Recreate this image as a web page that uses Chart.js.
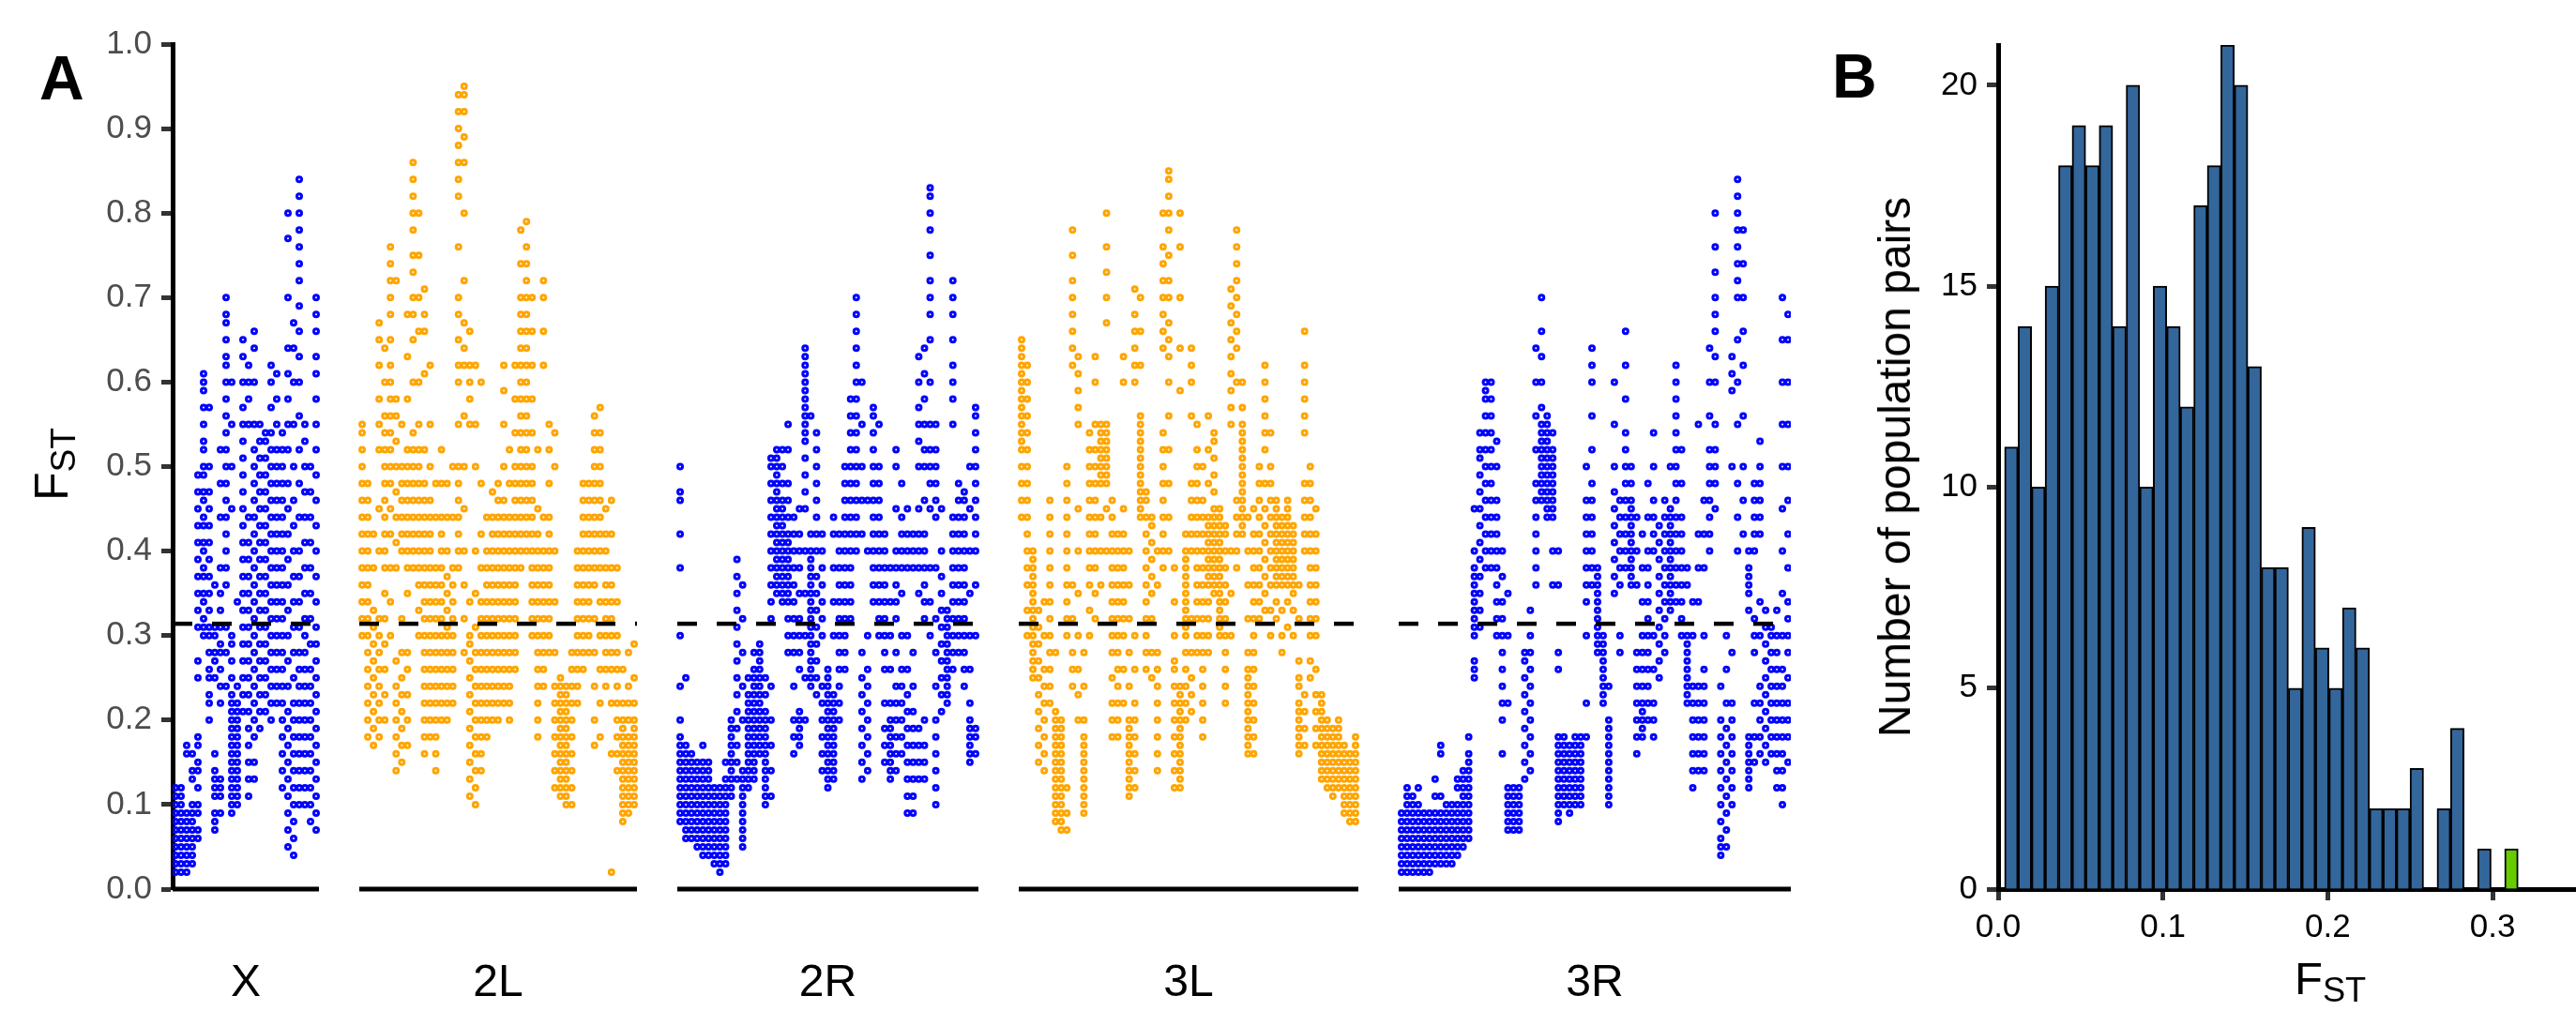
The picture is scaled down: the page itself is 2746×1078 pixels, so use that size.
<!DOCTYPE html>
<html>
<head>
<meta charset="utf-8">
<script src="https://cdn.jsdelivr.net/npm/chart.js@4.4.1/dist/chart.umd.min.js"></script>
<style>
  body { margin: 0; background: #fff; font-family: 'Liberation Sans', Arial, Helvetica, sans-serif; }
  #wrap { position: relative; width: 2746px; height: 1078px; overflow: hidden; }
  canvas { position: absolute; top: 0; }
  #chartA { left: 0; }
  #chartB { left: 1940px; }
  .lbl { position: absolute; line-height: 1; white-space: nowrap; color: #000; }
  .panel { font-weight: bold; font-size: 66px; }
  .sub { font-size: 0.74em; position: relative; top: 0.22em; }
  .rot { transform: translate(-50%, -50%) rotate(-90deg); }
</style>
</head>
<body>
<div id="wrap">
  <canvas id="chartA" width="1930" height="1078"></canvas>
  <canvas id="chartB" width="806" height="1078"></canvas>
  <div class="lbl panel" style="left:42px;top:50px;">A</div>
  <div class="lbl panel" style="left:1953px;top:48px;">B</div>
  <div class="lbl rot" style="left:55px;top:495px;font-size:50px;">F<span class="sub">ST</span></div>
  <div class="lbl rot" style="left:2020px;top:498px;font-size:48px;">Number of population pairs</div>
  <div class="lbl" style="left:2446px;top:1019px;font-size:49px;">F<span class="sub">ST</span></div>
</div>
<script>
// ---- panel A: FST along the chromosome arms ----
const armNames = ['X', '2L', '2R', '3L', '3R'];
const armLengths = [156, 296, 321, 362, 418]; // relative arm widths on the axis
const fstThreshold = 0.314;
const fstTicks = [0, 0.1, 0.2, 0.3, 0.4, 0.5, 0.6, 0.7, 0.8, 0.9, 1.0];

// FST x100, one inner list per window along the arm
const fstX = [
  [2,3,4,5,6,7,8,9,10,11,12],[2,3,4,5,6,7,8,9,10,11,12],[2,3,4,5,6,7,8,9,16,17],[3,4,5,6,7,8,9,10,13,14,16],
  [6,7,9,10,12,14,15,17,18,25,27,31,33,35,37,39,41,43,45,47,49],
  [30,31,32,34,35,37,38,40,41,43,44,46,47,49,50,52,53,55,57,59,60,61],
  [20,22,23,25,26,28,30,31,33,35,37,39,41,43,45,47,50,57],[7,8,9,11,12,13,14,16,25,27,28,30,31,36],
  [9,11,12,13,22,24,26,28,29,31,33,35,38,44,48,52],
  [24,28,31,36,38,40,42,44,46,48,50,52,54,56,58,60,62,63,65,67,68,70],
  [9,10,11,12,13,14,15,16,17,18,19,20,21,22,23,25,27,29,30,45,50,55,60],
  [10,11,12,13,14,15,16,17,18,19,20,21,22,24,34],
  [21,23,25,27,29,31,33,35,37,39,41,43,45,47,49,51,53,55,57,60,63,65],
  [11,13,15,17,19,21,23,25,27,29,31,33,35,37,39,41,44,55,58,60,62],
  [13,15,18,20,22,24,26,28,30,32,34,36,38,40,42,44,46,48,50,52,55,60,64,66],
  [19,21,23,25,27,29,31,33,35,37,39,41,43,45,47,49,51,53,55],
  [21,23,25,27,29,31,33,35,37,39,41,43,45,47,49,51,53,54],
  [20,22,24,26,28,30,32,34,36,38,40,42,44,46,48,50,52,54,57,60,62],
  [22,24,26,28,30,32,34,36,38,40,42,44,46,48,50,52,55,58,61],
  [12,14,16,18,20,22,24,26,28,30,32,34,36,38,40,42,44,46,48,50,52,54],
  [5,7,9,11,13,15,17,19,21,24,27,30,33,36,39,42,45,48,52,55,58,61,64,70,77,80],
  [4,6,8,10,12,14,16,18,20,22,25,28,31,34,37,40,43,46,50,55,60,64,67],
  [10,12,14,16,18,20,22,24,26,28,31,34,37,40,44,48,52,56,60,63,66,69,72,74,76,78,80,82,84],
  [10,12,14,16,18,20,22,24,26,28,30,32,35,38,41,44,47,50,53,55],
  [8,10,12,14,16,18,20,22,24,26,29,32,35,38,41,44,47,50],
  [7,9,11,13,15,17,19,21,23,25,27,29,31,34,37,40,43,46,49,52,55,58,61,63,66,68,70]
];
const fst2L = [
  [30,32,34,36,38,40,42,44,46,48,50,52,54,55],[18,20,22,24,26,28,30,32,34,36,38,40,42,44,46,48],
  [17,19,21,23,25,27,29,31,33,38,42],[18,20,22,24,26,28,30,32,40,45,52,55,58,62,65,67],
  [20,23,26,29,32,35,38,40,42,44,46,48,50,52,54,56,60,64],[30,34,38,42,45,48,50,52,54,56,58,60,62,65,68,70,72,74,76],
  [14,16,18,20,22,24,27,38,41,44,47,50,53,56,58,72],[15,17,19,21,23,25,28,32,40,42,44,46,48,50,55],
  [17,20,23,26,28,35,38,40,42,44,46,48,50,52,58,63,68],[38,40,42,44,46,48,50,52,54,60,65,68,70,73,75,78,80,82,84,86],
  [30,33,36,38,40,42,44,46,48,50,52,55,60,66,70,75,80],
  [16,18,20,22,24,26,28,30,32,34,36,38,40,42,44,46,48,52,61,66,68,71],
  [18,20,22,24,26,28,30,32,34,36,38,40,42,44,46,50,55,62],[14,16,18,20,22,24,26,28,30,32,34,36,38,44,48],
  [20,22,24,26,28,30,32,34,36,38,40,42,44,48,52],[20,22,24,26,28,30,31,33,35,37,40,44,48],
  [22,24,26,28,30,32,34,36,38,44,50],[38,40,42,44,46,48,50,55,60,62,65,68,70,76,82,84,86,88,90,92,94],
  [28,32,36,40,45,50,56,62,64,67,72,80,86,89,92,94,95],[11,13,15,17,19,21,23,25,27,29,30,34,55,58,60,62,66],
  [10,12,14,16,18,20,22,24,26,28,31,35,40,50,55,62],[14,16,18,20,22,24,26,28,30,32,34,38,42,48,60],
  [18,20,22,24,26,28,30,32,34,36,38,40,44],[20,22,24,26,28,30,32,34,36,38,40,42,44,47],
  [20,22,24,26,28,30,32,34,36,38,40,42,44,46,48],[22,24,26,28,30,32,34,36,38,40,42,44,46,50,55,59,62],
  [20,22,24,26,28,30,32,34,36,38,40,42,44,48,52],[26,28,30,32,34,36,38,40,42,44,46,48,50,54,58,62],
  [38,40,42,44,46,48,50,52,54,56,58,60,62,64,66,68,70,74,78],
  [40,42,44,46,48,50,52,54,56,58,60,62,64,66,68,70,72,74,76,79],
  [30,32,34,36,38,40,42,44,46,48,50,54,58,62,66,70],[18,20,22,24,26,28,30,32,34,36,38,40,42,45,52],
  [24,26,28,30,32,34,36,38,40,44,62,66,70,72],[28,30,32,34,36,38,40,42,44,48,52,55],
  [12,14,16,18,20,22,24,28,34,40,50,54],[11,12,13,14,15,16,17,18,19,20,21,22,23,24,25],
  [10,11,12,13,14,15,16,17,18,19,20,21,22,23,24],[10,12,14,16,18,20,22,24,26,28],
  [22,24,26,28,30,32,34,36,38,40],[26,28,30,32,34,36,38,40,42,44,46,48],[28,30,32,34,36,38,40,42,44,46,48],
  [17,20,24,28,32,36,38,40,42,44,46,48,50,52,54,56],[18,22,26,30,34,38,40,42,44,46,48,50,52,54,57],
  [24,26,28,30,32,34,36,38,40,42,45],[2,16,22,26,28,30,32,34,36,38,42,46],[14,16,18,20,22,24,26,28,30,34,38],
  [8,9,10,11,12,13,14,15,16,17,18,19,20,22,26],[9,10,11,12,13,14,15,16,17,18,20,22,24,28],
  [10,11,12,13,14,15,16,17,18,19,20,22,25,29]
];
const fst2R = [
  [8,9,10,11,12,13,14,15,16,17,18,20,24,30,38,42,46,47,50],[6,7,8,9,10,11,12,13,14,15,16,17,25],
  [6,7,8,9,10,11,12,13,14,15,16],[5,6,7,8,9,10,11,12,13,14,15],[4,5,6,7,8,9,10,11,12,13,14,15,17],
  [4,5,6,7,8,9,10,11,12,13,14,15],[3,4,5,6,7,8,9,10,11,12],[2,3,4,5,6,7,8,9,10,11,12],
  [3,4,5,6,7,8,9,10,11,12,13,15],[11,12,13,14,15,16,17,18,19,20],[13,15,17,19,21,23,25,27,29,31,33,35,37,39],
  [5,6,7,8,9,10,11,12,13,14,20,24,28,32,36],[12,13,14,15,16,17,18,19,20,21,22,23,25],
  [13,14,15,16,17,18,19,20,21,22,23,24,25,26,28],[16,17,18,19,20,21,22,23,24,25,26,27,28,29],
  [10,11,12,13,14,15,16,17,18,19,20,21,23,25],[11,14,17,20,24,32,34,36,38,40,42,44,46,48,50,51],
  [35,36,37,38,39,40,41,42,43,44,45,46,47,48,49,50,51,52],[34,35,36,37,38,39,40,41,42,43,44,45,46,48,50,52],
  [28,30,32,34,35,36,37,38,39,40,41,42,44,46,48,52,55],[16,18,20,24,28,30,32,34,36,38,40,42,44],
  [17,18,19,20,21,26,28,30,32,35,38,40,42,45],[20,25,30,35,40,45,47,49,51,53,54,55,56,57,58,59,60,61,62,63,64],
  [24,25,26,27,28,29,30,31,32,33,34,35,36,37,38,39,40,42,56],[23,25,27,29,31,33,35,37,40,42,44,46,48,50,52,54],
  [14,16,18,20,22,24,30,32,34,36,38,40,42],[12,13,14,15,16,17,18,19,20,21,22,23,24,25,26],
  [13,14,15,16,17,18,19,20,21,22,23,30,34,38,42,44],[20,22,24,26,28,30,32,34,36,38,40,42],
  [26,28,30,32,34,36,38,40,42,44,46,48,50],[32,34,36,38,40,42,44,46,48,50,52,54,56,58],
  [40,42,44,46,48,50,52,54,56,58,60,62,64,66,68,70],[13,15,17,19,21,23,25,28,42,46,50,55,60],
  [14,16,18,20,22,24,26,30,40,46],[34,36,38,40,42,44,46,48,50,52,54,56,57],[30,32,34,36,38,40,42,44,46,48,50,55],
  [15,17,19,22,26,28,30,32,34,36,38,40,42],[13,14,15,16,17,18,19,20,22,26,30,34,38],
  [14,16,18,20,22,24,28,32,34,36,38,40,45,50,52],[16,18,20,22,24,26,30,35,38,40,42,44,48],
  [9,11,13,15,17,19,21,23,26,30,38,40,42,45],[9,11,13,15,17,19,21,24,28,38,40,42],
  [13,15,17,19,35,38,40,42,45,50,53,55,57,60,63],[13,15,17,20,32,34,36,38,40,42,46,50,52,55,58,61,64],
  [30,34,38,45,48,50,52,55,60,65,68,70,72,75,78,80,82,83],[10,12,14,16,18,20,24,28,32,38,44,46,48,50,52,55],
  [21,23,25,27,29,31,33,35,37,40,45],[22,23,24,25,26,27,28,29,30,31,32,33],
  [26,28,30,32,34,36,38,40,42,44,55,58,60,62,65,68,70,72],[28,30,32,34,36,38,40,42,44,46,48],
  [24,26,28,30,32,34,36,38,40,42,44,46,47],[15,16,17,18,19,20,22,26,30,35,40,45,50],
  [16,18,19,30,36,40,42,44,46,48,50,52,54,56,57]
];
const fst3L = [
  [44,46,48,50,52,53,54,55,56,57,58,59,60,61,62,63,64,65],[30,33,36,38,40,42,44,46,48,50,52,54,56,58,60,62],
  [25,26,27,28,29,30,31,32,33,34,35,36,37,38,39,40],[15,17,19,21,23,25,27,29,31,33],[14,16,18,20,22,24,26,30,34],
  [22,24,26,28,30,32,34,36,38,40,42,44,46],[8,9,10,11,12,13,14,15,16,17,18,19,20,21,28],
  [7,8,9,10,11,12,13,14,15,16,17,18,19,20],[7,9,12,30,32,34,36,38,40,42,44,46,48,50],
  [24,26,28,32,36,62,64,66,68,70,72,75,78],[20,23,26,30,35,40,45,55,57,59,61,63],
  [9,10,11,12,13,14,15,16,17,18,20,24,28],[30,33,36,38,40,42,44,46,48,50,52,54],
  [32,35,38,40,42,44,46,48,50,52,55,60,63],[36,40,44,48,49,50,51,52,53,54,55],
  [40,45,48,49,50,51,52,53,54,55,67,70,73,76,80],[18,20,22,25,28,30,32,34,36,38,40,42,44,46],
  [18,20,22,24,26,28,30,32,34,36,38,40,42],[22,26,30,32,34,36,38,40,42,45,60,63],
  [11,12,13,14,15,16,17,18,19,20,24,28,32,36,40],[12,14,16,18,20,22,26,30,60,62,64,66,68,71],
  [44,45,46,47,48,49,50,51,52,53,54,55,56,62,66,70],[26,28,30,32,34,36,38,40,42,44,46,47],
  [25,28,32,35,37,39,41,43,44],[14,16,18,20,22,24,26,28,36,40],[38,40,42,44,46,48,50,52,54,64,66,68,70,72,74,76,80],
  [40,44,48,52,56,60,63,65,67,70,72,75,78,80,82,84,85],[12,14,16,18,20,22,24,26,27,30,34,38],
  [12,13,14,15,16,17,18,19,20,21,22,23,24,59,64,70,76,80],[20,22,24,26,28,30,31,32,33,34,35,36,37,38,39,40,42],
  [21,23,25,28,32,40,42,44,46,48,56,60,62,64],[28,30,32,34,36,38,40,42,44,46,48,50,52,55],
  [18,20,22,24,26,28,30,32,34,36,38,40,42,44,46,50],[28,30,32,34,36,37,38,39,40,41,42,43,44,48,52,56],
  [35,36,37,38,39,40,41,42,43,44,45,47,49,51,53,54],[30,31,32,33,34,35,36,37,38,39,40,41,42,43,44,45],
  [22,24,26,28,30,32,34,36,38,40,42,43],[30,35,40,55,57,59,61,63,65,67,69,71],
  [38,40,42,44,46,60,64,66,68,70,72,74,76,78],[42,43,44,45,46,47,48,49,50,51,52,53,54,55,57,60],
  [16,17,18,19,20,21,22,23,24,25,26,28,32,36,40,44],[16,18,20,22,24,26,28,30,32,34,36,38,40,42,45],
  [32,34,36,38,40,42,44,46,48,50],[33,35,37,39,41,43,45,48,52,54,56,58,60,62],[30,33,36,38,40,42,44,46,48,50,54],
  [32,34,36,37,38,39,40,41,42,43,44,45,46],[28,30,33,36,37,38,39,40,41,42,43,44],
  [31,34,36,37,38,39,40,41,42,43,44,45,46],[30,33,35,36,37,38,39,40,41,42,43],
  [16,17,18,19,20,21,22,24,25,27,32,36],[17,19,21,23,40,42,44,46,48,54,56,58,60,62,66],
  [25,27,30,32,34,36,38,40,42,44,46,48,50],[17,19,21,23,26,30,32,34,36,38,40,42,45],
  [13,14,15,16,17,18,19,20,21,22,23],[12,13,14,15,16,17,18,19,20],[11,12,13,14,15,16,17,18,19],
  [12,13,14,15,16,17,18,19,20],[9,10,11,12,13,14,15,16,17],[8,9,10,11,12,13,14,15,16],[8,9,10,11,12,13,14,15,16,17,18]
];
const fst3R = [
  [2,3,4,5,6,7,8,9],[2,3,4,5,6,7,8,9,10,11,12],[2,3,4,5,6,7,8,9,10,11],[2,3,4,5,6,7,8,9,10,12],
  [2,3,4,5,6,7,8,9],[2,3,4,5,6,7,8,9],[3,4,5,6,7,8,9,11,13],[3,4,5,6,7,8,9,11,16,17],[3,4,5,6,7,8,9,10],
  [3,4,5,6,7,8,9,10],[4,5,6,7,8,9,10,12,13],[5,6,7,8,9,10,11,12,13,14],[6,7,8,9,10,11,12,13,14,15,16,18],
  [25,26,27,30,31,32,33,34,35,36,37,38,40,45],[31,33,35,37,39,41,43,45,47,49,51,52,54],
  [38,40,42,44,46,48,50,52,54,56,58,59,60],[38,40,42,44,46,48,50,52,54,56,58,60],
  [30,32,34,36,38,40,42,44,46,50,53],[16,20,22,24,26,28,30,32,34,37,40],[7,8,9,10,11,12,22,30,35],
  [7,8,9,10,11,12],[7,8,9,10,11,12],[13,15,17,19,21,23,25,27,28],[14,16,18,20,22,24,26,28,30,33],
  [36,38,40,42,44,46,48,52,56,60,64],[46,47,48,49,50,51,52,53,54,55,57,60,63,66,70],
  [44,45,46,47,48,49,50,51,52,53,54,55,56],[36,40,44,45,46,47,48,49,50,51,52,54],
  [8,9,10,11,12,13,14,15,16,17,18,26,28,36,40],[10,11,12,13,14,15,16,17,18],[9,10,11,12,13,14,15,16,17],
  [10,11,12,13,14,15,16,17,18],[10,11,12,13,14,15,16,17,18],[18,22,30,34,36,38,40,42,44,46,50],
  [36,38,40,42,44,46,48,52,56,60,62,64],[28,29,30,31,32,33,34,35,36,37,38],[22,23,24,25,26,27,28,29,30],
  [10,11,12,13,14,15,16,17,18,19,20,24],[35,37,39,41,43,45,47,50,55,60],[28,30,36,38,40,42,44,46],
  [38,40,42,44,46,48,50,52,54,58,62,66],[36,37,38,39,40,41,42,43,44,45,46,48,50],
  [16,18,20,22,24,26,28,36,40,44],[18,19,20,21,22,24,26,28,30,34,38,42],[20,22,24,26,28,30,32,34,36,38,40,44,48],
  [18,20,22,26,30,40,42,44,46,50,54],[25,27,29,31,33,35,37,39,41,43],[28,30,32,34,36,38,40,42,44,46],
  [33,34,35,36,37,38,39,40,41,42,43,44,45,50],[34,36,38,40,42,44,46,48,50,52,54,56,58,60,62],
  [30,32,34,36,38,40,42,44,48,52],[22,23,24,25,26,27,28,29,30,36,38],[12,14,16,18,20,22,24,30,34],
  [14,16,18,20,22,24,34,38,42,55],[14,16,18,20,22,24,26,30,38,42,46],[40,42,44,46,48,50,52,56,60,64],
  [45,48,50,52,55,60,63,66,68,70,73,76,80],[4,5,6,8,10,12,14,16,18,20,24],[5,7,9,11,13,15,17,19,22,26,30],
  [10,12,14,16,18,20,22,28,50,59,61,63],[40,44,48,55,60,65,70,72,74,76,78,80,82,84],[42,46,50,56,62,66,70,74,78],
  [12,13,14,15,16,17,18,33,35,36,37,38,40],[15,18,22,28,30,32,40,42,44,46,48],
  [16,18,20,22,24,30,34,42,44,46,48,50,53],[15,17,19,21,23,25,27,29,31,33],[16,18,20,22,24,26,28,30,31],
  [12,14,16,18,20,22,24,26,28,30,33],[10,12,14,16,18,20,22,24,26,30,35,40,45,50,55,60,65,70],
  [15,18,20,22,25,28,30,32,34,38,42,46,50,55,60,65,68]
];
const armData = [fstX, fst2L, fst2R, fst3L, fst3R];

// ---- panel B: histogram of genome-wide FST ----
const binStart = 0.0039;
const binWidth = 0.0082;
const binCounts = [11,14,10,15,18,19,18,19,14,20,10,15,14,12,17,18,21,20,13,8,8,5,9,6,5,7,6,2,2,2,3,0,2,4,0,1,0,1];
const histTicks = [0, 0.1, 0.2, 0.3];
const countTicks = [0, 5, 10, 15, 20];

Chart.defaults.font.family = "'Liberation Sans', Arial, Helvetica, sans-serif";

const ARM_GAP = 43;
const armColors = ['#0000FF', '#FFA500', '#0000FF', '#FFA500', '#0000FF'];

const armStarts = [];
let cursor = 0;
armLengths.forEach((len) => {
  armStarts.push(cursor);
  cursor += len + ARM_GAP;
});
const totalLength = cursor - ARM_GAP;
const armCenters = armStarts.map((s, i) => s + armLengths[i] / 2);

const armPoints = (cols, a) => {
  const pts = [];
  const step = armLengths[a] / cols.length;
  cols.forEach((col, i) => {
    col.forEach((v) => pts.push({ x: armStarts[a] + (i + 0.5) * step, y: v / 100 }));
  });
  return pts;
};

let datasetsA = [];
armData.forEach((cols, a) => {
  datasetsA.push({
    data: armPoints(cols, a),
    pointRadius: 2.5,
    pointBorderWidth: 3,
    pointBorderColor: armColors[a],
    pointBackgroundColor: 'rgba(0,0,0,0)',
    showLine: false,
    order: 3
  });
  const start = armStarts[a];
  const end = start + armLengths[a];
  datasetsA.push({
    data: [{ x: start, y: 0 }, { x: end, y: 0 }],
    showLine: true, borderColor: '#000', borderWidth: 5, pointRadius: 0, clip: false, order: 1
  });
  datasetsA.push({
    data: [{ x: start, y: fstThreshold }, { x: end, y: fstThreshold }],
    showLine: true, borderColor: '#000', borderWidth: 4.5, borderDash: [21, 21], pointRadius: 0, order: 1
  });
});

new Chart(document.querySelector('#chartA'), {
  type: 'scatter',
  data: { datasets: datasetsA },
  options: {
    responsive: false,
    animation: false,
    events: [],
    layout: { padding: { top: 47, right: 21, bottom: 0, left: 0 } },
    plugins: { legend: { display: false }, tooltip: { enabled: false } },
    scales: {
      x: {
        type: 'linear', min: 0, max: totalLength,
        grid: { display: false, drawTicks: false },
        border: { display: false },
        afterBuildTicks: (s) => { s.ticks = armCenters.map((v) => ({ value: v })); },
        afterFit: (s) => { s.height = 130; },
        ticks: {
          autoSkip: false, maxRotation: 0, padding: 72, color: '#000',
          font: { size: 48 },
          callback: (v, i) => armNames[i]
        }
      },
      y: {
        min: 0, max: 1,
        afterBuildTicks: (s) => { s.ticks = fstTicks.map((v) => ({ value: v })); },
        afterFit: (s) => { s.width = 184; },
        grid: { drawOnChartArea: false, drawTicks: true, tickLength: 12, tickWidth: 5, tickColor: '#333333' },
        border: { display: true, color: '#000', width: 5 },
        ticks: { color: '#4D4D4D', font: { size: 35 }, padding: 10, callback: (v) => v.toFixed(1) }
      }
    }
  }
});

const highlightBin = Math.floor((fstThreshold - binStart) / binWidth);

new Chart(document.querySelector('#chartB'), {
  type: 'bar',
  data: {
    datasets: [{
      data: binCounts.map((c, i) => ({ x: binStart + (i + 0.5) * binWidth, y: c })),
      backgroundColor: binCounts.map((c, i) => (i === highlightBin ? '#66CC00' : '#33669A')),
      borderColor: '#000',
      borderWidth: 2,
      borderSkipped: 'start',
      barPercentage: 1,
      categoryPercentage: 1
    }]
  },
  options: {
    responsive: false,
    animation: false,
    events: [],
    layout: { padding: { top: 48, right: 0, bottom: 0, left: 0 } },
    plugins: { legend: { display: false }, tooltip: { enabled: false } },
    scales: {
      x: {
        type: 'linear', min: 0, max: 0.3506, offset: false,
        afterBuildTicks: (s) => { s.ticks = histTicks.map((v) => ({ value: v })); },
        afterFit: (s) => { s.height = 130; },
        grid: { offset: false, drawOnChartArea: false, drawTicks: true, tickLength: 12, tickWidth: 5, tickColor: '#333333' },
        border: { display: true, color: '#000', width: 5 },
        ticks: { color: '#000', font: { size: 35 }, padding: 8, maxRotation: 0, callback: (v) => v.toFixed(1) }
      },
      y: {
        min: 0, max: 21,
        afterBuildTicks: (s) => { s.ticks = countTicks.map((v) => ({ value: v })); },
        afterFit: (s) => { s.width = 190; },
        grid: { drawOnChartArea: false, drawTicks: true, tickLength: 12, tickWidth: 5, tickColor: '#333333' },
        border: { display: true, color: '#000', width: 5 },
        ticks: { color: '#000', font: { size: 35 }, padding: 10 }
      }
    }
  }
});
</script>
</body>
</html>
